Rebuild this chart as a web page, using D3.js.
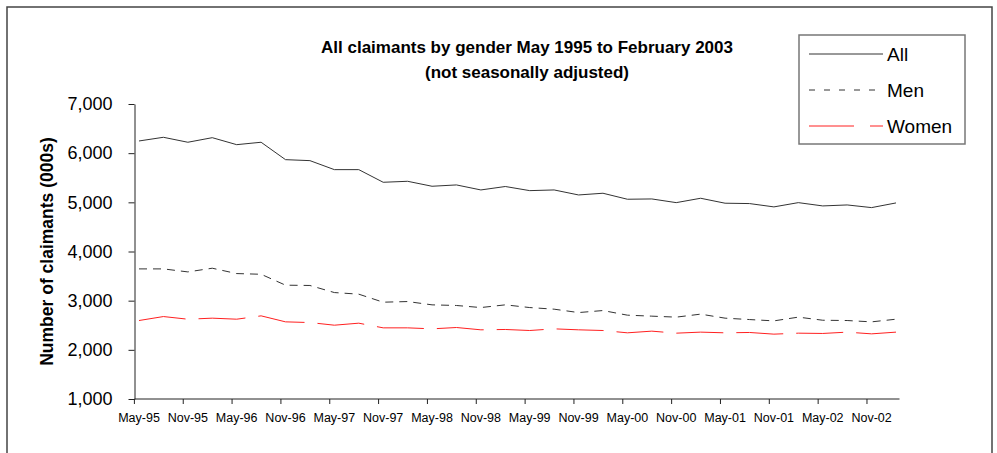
<!DOCTYPE html>
<html>
<head>
<meta charset="utf-8">
<script src="https://cdn.jsdelivr.net/npm/d3@7"></script>
<style>
  body { margin: 0; background: #fff; }
  text { font-family: Arial, "Liberation Sans", sans-serif; }
</style>
</head>
<body>
<div id="chart"></div>
<script>
// quarterly categories, May 1995 to Feb 2003
const quarters = [
  "May-95","Aug-95","Nov-95","Feb-96","May-96","Aug-96","Nov-96","Feb-97",
  "May-97","Aug-97","Nov-97","Feb-98","May-98","Aug-98","Nov-98","Feb-99",
  "May-99","Aug-99","Nov-99","Feb-00","May-00","Aug-00","Nov-00","Feb-01",
  "May-01","Aug-01","Nov-01","Feb-02","May-02","Aug-02","Nov-02","Feb-03"
];

const allClaimants = [
  6248, 6323, 6222, 6315, 6173, 6222, 5868, 5848, 5665, 5665, 5408, 5428, 5327, 5354, 5252, 5322,
  5238, 5252, 5150, 5185, 5063, 5069, 4994, 5083, 4982, 4975, 4907, 4994, 4927, 4947, 4893, 4988
];
const men = [
  3646, 3646, 3585, 3660, 3551, 3537, 3315, 3309, 3165, 3132, 2969, 2982, 2915, 2902, 2860, 2915,
  2860, 2827, 2758, 2799, 2705, 2685, 2665, 2726, 2644, 2616, 2589, 2665, 2602, 2596, 2569, 2623
];
const women = [
  2596, 2677, 2623, 2644, 2623, 2691, 2569, 2555, 2501, 2542, 2447, 2447, 2427, 2454, 2407, 2414,
  2393, 2427, 2407, 2393, 2346, 2380, 2339, 2360, 2346, 2353, 2319, 2339, 2333, 2360, 2325, 2360
];

const yTicks = [1000, 2000, 3000, 4000, 5000, 6000, 7000];

const series = [
  { name: "All", values: allClaimants, color: "#333", dash: null },
  { name: "Men", values: men, color: "#333", dash: "8,6" },
  { name: "Women", values: women, color: "#ff2020", dash: "47,13" }
];

const W = 997, H = 453;
const svg = d3.select("#chart").append("svg")
  .attr("width", W).attr("height", H);

// outer chart border (bottom runs off the page)
svg.append("rect")
  .attr("x", 7).attr("y", 7)
  .attr("width", 985).attr("height", 470)
  .attr("fill", "none").attr("stroke", "#444").attr("stroke-width", 1.5);

const plotLeft = 134.5, plotRight = 899.5;
const x = d3.scalePoint().domain(d3.range(quarters.length)).range([139, 896]);
const y = d3.scaleLinear().domain([1000, 7000]).range([399, 104]);

// y axis
const yAxis = svg.append("g")
  .attr("transform", `translate(${plotLeft},0)`)
  .call(d3.axisLeft(y).tickValues(yTicks).tickSize(6).tickSizeOuter(0).tickFormat(d3.format(",")));
yAxis.select(".domain").attr("stroke", "#222");
yAxis.selectAll(".tick line").attr("stroke", "#222");
yAxis.selectAll(".tick text")
  .attr("x", -22).attr("font-size", 18).attr("fill", "#000")
  .attr("font-family", "Arial, 'Liberation Sans', sans-serif");

// x axis
const xg = svg.append("g");
xg.append("line")
  .attr("x1", plotLeft).attr("x2", plotRight)
  .attr("y1", y(1000)).attr("y2", y(1000))
  .attr("stroke", "#222");
const labelIdx = d3.range(0, quarters.length, 2);
xg.selectAll(".xtick").data(labelIdx).join("line")
  .attr("class", "xtick")
  .attr("x1", d => x(d) - 4.6).attr("x2", d => x(d) - 4.6)
  .attr("y1", y(1000)).attr("y2", y(1000) + 5)
  .attr("stroke", "#222");
xg.selectAll(".xlabel").data(labelIdx).join("text")
  .attr("class", "xlabel")
  .attr("x", d => x(d)).attr("y", y(1000) + 23)
  .attr("text-anchor", "middle")
  .attr("font-size", 12.5)
  .text(d => quarters[d]);

// y axis title
svg.append("text")
  .attr("transform", `translate(53,${(y(1000) + y(7000)) / 2}) rotate(-90)`)
  .attr("text-anchor", "middle")
  .attr("font-size", 17.5).attr("font-weight", "bold")
  .text("Number of claimants (000s)");

// title
svg.append("text")
  .attr("x", 527).attr("y", 53)
  .attr("text-anchor", "middle")
  .attr("font-size", 17).attr("font-weight", "bold")
  .text("All claimants by gender May 1995 to February 2003");
svg.append("text")
  .attr("x", 527).attr("y", 78)
  .attr("text-anchor", "middle")
  .attr("font-size", 17).attr("font-weight", "bold")
  .text("(not seasonally adjusted)");

// lines
const line = d3.line()
  .x((d, i) => x(i))
  .y(d => y(d));

svg.selectAll(".series").data(series).join("path")
  .attr("class", "series")
  .attr("d", d => line(d.values))
  .attr("fill", "none")
  .attr("stroke", d => d.color)
  .attr("stroke-width", 1)
  .attr("stroke-dasharray", d => d.dash);

// legend
const legend = svg.append("g");
legend.append("rect")
  .attr("x", 799).attr("y", 35)
  .attr("width", 166).attr("height", 109)
  .attr("fill", "#fff").attr("stroke", "#777").attr("stroke-width", 1.5);

const leg = legend.selectAll(".leg").data(series).join("g")
  .attr("class", "leg")
  .attr("transform", (d, i) => `translate(0,${54 + i * 36})`);
leg.append("line")
  .attr("x1", 809).attr("x2", 883)
  .attr("stroke", d => d.color)
  .attr("stroke-width", 1)
  .attr("stroke-dasharray", d => d.name === "Women" ? "45,16" : (d.dash ? "6,9" : null));
leg.append("text")
  .attr("x", 887).attr("y", 0).attr("dy", "0.35em")
  .attr("font-size", 19)
  .text(d => d.name);
</script>
</body>
</html>
